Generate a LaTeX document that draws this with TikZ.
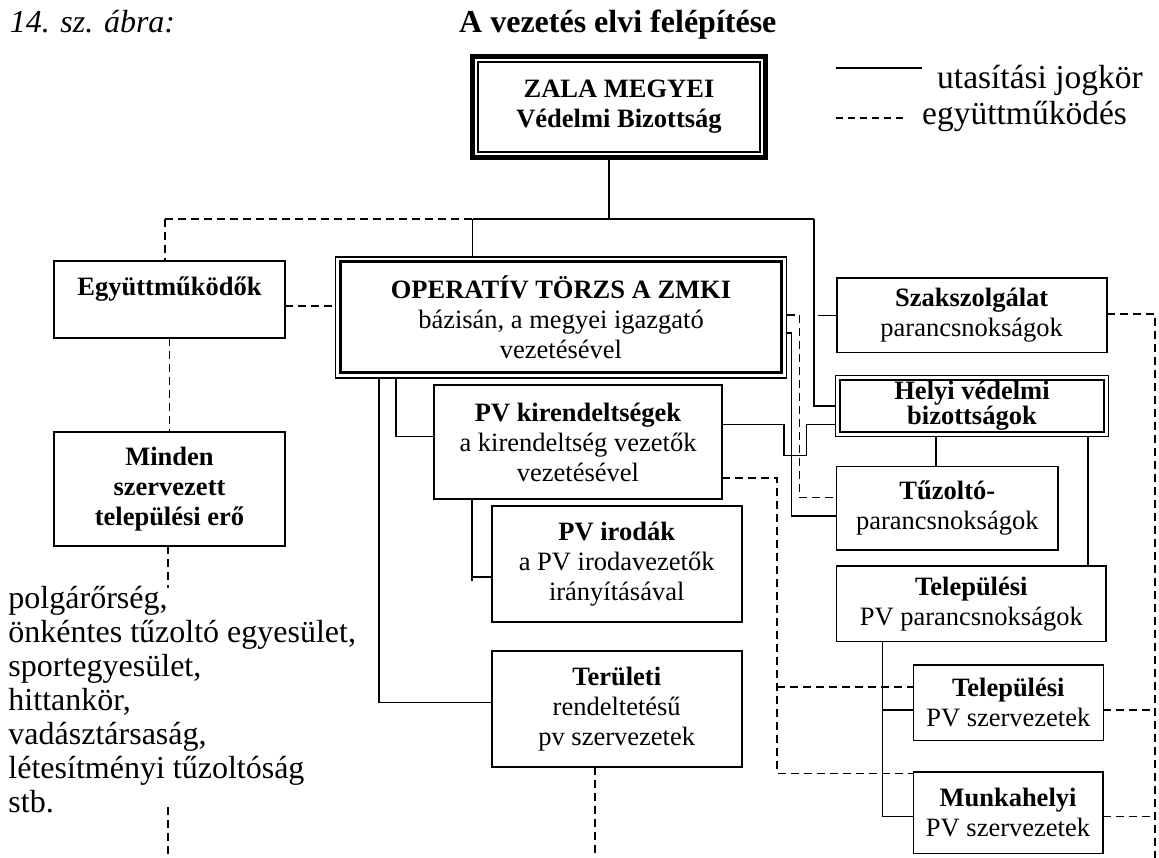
\documentclass[tikz,border=0pt]{standalone}
\usepackage{fontspec}
\setmainfont{Liberation Serif}
\newcommand\bxf{\fontsize{26.5}{30}\selectfont}
\newcommand\lgf{\fontsize{33.5}{36}\selectfont}
\newcommand\lsf{\fontsize{32}{34}\selectfont}
\newcommand\ttlf{\fontsize{32}{36}\selectfont}
\begin{document}
\begin{tikzpicture}[x=1pt,y=-1pt,
  box/.style={draw, line width=1.6pt, inner sep=0pt, outer sep=0pt, align=center, font=\bxf},
  conn/.style={line width=1.5pt},
  coop/.style={line width=1.5pt, dash pattern=on 8pt off 5pt}]
\useasboundingbox (0,0) rectangle (1159,858);
\fill[white] (0,0) rectangle (1159,858);

% titles and legend
\node[anchor=base west, inner sep=0pt, font=\ttlf\itshape] (fig) at (9.6,33) {14. sz. ábra:};
\node[anchor=base west, inner sep=0pt, font=\ttlf\bfseries] (title) at (459,33) {A vezetés elvi felépítése};
\coordinate (la1) at (836,68); \coordinate (la2) at (922,68);
\draw[conn] (la1) -- (la2);
\node[anchor=base west, inner sep=0pt, font=\lgf] (legA) at (937,89) {utasítási jogkör};
\coordinate (lc1) at (836,118); \coordinate (lc2) at (906,118);
\draw[line width=1.5pt, dash pattern=on 7pt off 5pt] (lc1) -- (lc2);
\node[anchor=base west, inner sep=0pt, font=\lgf] (legB) at (922,125) {együttműködés};

% boxes
\node[box, line width=5pt, minimum width=293pt, minimum height=101pt, font=\bxf\bfseries] (zala) at (619,107) {ZALA MEGYEI\\Védelmi Bizottság};
\draw[line width=1.5pt] ([shift={(5.5,5.5)}]zala.north west) rectangle ([shift={(-5.5,-5.5)}]zala.south east);

\node[box, line width=1.8pt, minimum width=451pt, minimum height=121pt] (oper) at (561,317.5) {\textbf{OPERATÍV TÖRZS A ZMKI}\\bázisán, a megyei igazgató\\vezetésével};
\draw[line width=3pt] ([shift={(5,5)}]oper.north west) rectangle ([shift={(-5,-5)}]oper.south east);

\node[box, minimum width=231pt, minimum height=77pt] (egyutt) at (169.5,299.5) {\textbf{Együttműködők}\\[-4pt]\mbox{}};
\node[box, minimum width=231pt, minimum height=114pt, font=\bxf\bfseries] (minden) at (169.5,489) {Minden\\szervezett\\települési erő};
\node[box, minimum width=288pt, minimum height=114pt] (pvkir) at (578,442) {\textbf{PV kirendeltségek}\\a kirendeltség vezetők\\vezetésével};
\node[box, minimum width=250pt, minimum height=116pt] (pviro) at (616.7,564) {\textbf{PV irodák}\\a PV irodavezetők\\irányításával};
\node[box, minimum width=250pt, minimum height=116pt] (terul) at (616.7,708.7) {\textbf{Területi}\\rendeltetésű\\pv szervezetek};
\node[box, minimum width=270pt, minimum height=74.7pt] (szak) at (971.7,315.3) {\textbf{Szakszolgálat}\\parancsnokságok};
\node[box, minimum width=273pt, minimum height=61pt, font=\fontsize{26.5}{23}\selectfont\bfseries] (helyi) at (972,406) {Helyi védelmi\\bizottságok};
\draw[line width=2.6pt] ([shift={(4.5,4.5)}]helyi.north west) rectangle ([shift={(-4.5,-4.5)}]helyi.south east);
\node[box, minimum width=221.3pt, minimum height=83.3pt] (tuzolto) at (947.3,508.3) {\textbf{Tűzoltó-}\\parancsnokságok};
\node[box, minimum width=269.3pt, minimum height=75.7pt] (telpar) at (971.3,603.8) {\textbf{Települési}\\PV parancsnokságok};
\node[box, minimum width=190pt, minimum height=75.7pt] (telsz) at (1008.3,702.8) {\textbf{Települési}\\PV szervezetek};
\node[box, minimum width=189.4pt, minimum height=81.6pt] (munka) at (1008,812.5) {\textbf{Munkahelyi}\\PV szervezetek};

\node[anchor=north west, inner sep=0pt, align=left, font=\lsf] (list) at (8.3,586) {polgárőrség,\\önkéntes tűzoltó egyesület,\\sportegyesület,\\hittankör,\\vadásztársaság,\\létesítményi tűzoltóság\\stb.};

% bus from the county committee
\coordinate (bL) at (165,219); \coordinate (bM) at (472.5,219);
\coordinate (bZ) at (609,219); \coordinate (bR) at (814,219);
\draw[conn] (bZ |- zala.south) -- (bZ);
\draw[conn] (bM) -- (bR);
\draw[coop] (bL) -- (bM);
\draw[conn] (bM) -- (bM |- oper.north);
\draw[coop] (bL) -- (bL |- egyutt.north);
\draw[conn] (bR) -- (bR |- helyi.west) -- (helyi.west);
\coordinate (bS) at (818,0);
\draw[conn] (bS |- szak.west) -- (szak.west);

% left column
\coordinate (eo) at (0,306);
\draw[coop] (egyutt.east |- eo) -- (oper.west |- eo);
\draw[coop] (egyutt.south) -- (minden.north);
\coordinate (mt) at (168,588);
\draw[coop] (minden.south -| mt) -- (mt);
\coordinate (lb1) at (168,807); \coordinate (lb2) at (168,858);
\draw[coop] (lb1) -- (lb2);

% operative staff downward
\coordinate (t1) at (379,702.5);
\draw[conn] (t1 |- oper.south) -- (t1) -- (terul.west |- t1);
\coordinate (k1) at (396,436.7);
\draw[conn] (k1 |- oper.south) -- (k1) -- (pvkir.west |- k1);
\coordinate (i1) at (472,577); \coordinate (i2) at (472,581);
\draw[conn] (i1 |- pvkir.south) -- (i2);
\draw[conn] (i1) -- (pviro.west |- i1);

% kirendeltsegek to helyi (with notch)
\coordinate (n1) at (784,424.7); \coordinate (n2) at (806.7,455.5);
\draw[conn] (pvkir.east |- n1) -- (n1) -- (n1 |- n2) -- (n2) -- (n2 |- n1) -- (helyi.west |- n1);

% operative staff to fire brigade
\coordinate (s1) at (791.7,333); \coordinate (s2) at (791.7,516);
\draw[conn] (oper.east |- s1) -- (s1) -- (s2) -- (tuzolto.west |- s2);
\coordinate (d1) at (799.3,315); \coordinate (d2) at (799.3,497.3);
\draw[coop] (oper.east |- d1) -- (d1) -- (d2) -- (tuzolto.west |- d2);

% helyi downward
\coordinate (h1) at (936,0); \coordinate (h2) at (1088,0);
\draw[conn] (h1 |- helyi.south) -- (h1 |- tuzolto.north);
\draw[conn] (h2 |- helyi.south) -- (h2 |- telpar.north);

% telepulesi parancsnoksagok downward
\coordinate (p1) at (882.7,710); \coordinate (p2) at (882.7,816.7);
\draw[conn] (p1 |- telpar.south) -- (p2) -- (munka.west |- p2);
\draw[conn] (p1) -- (telsz.west |- p1);

% kirendeltsegek cooperation
\coordinate (q1) at (777,478); \coordinate (q2) at (777,687); \coordinate (q3) at (777,773.3);
\draw[coop] (pvkir.east |- q1) -- (q1) -- (q3) -- (munka.west |- q3);
\draw[coop] (q2) -- (telsz.west |- q2);

% right cooperation line
\coordinate (r1) at (1155,314); \coordinate (r2) at (1155,710);
\coordinate (r3) at (1155,816.7); \coordinate (r4) at (1155,858);
\draw[coop] (szak.east |- r1) -- (r1) -- (r4);
\draw[coop] (telsz.east |- r2) -- (r2);
\draw[coop] (munka.east |- r3) -- (r3);

% teruleti downward
\coordinate (u1) at (595,858);
\draw[coop] (terul.south -| u1) -- (u1);
\end{tikzpicture}
\end{document}
